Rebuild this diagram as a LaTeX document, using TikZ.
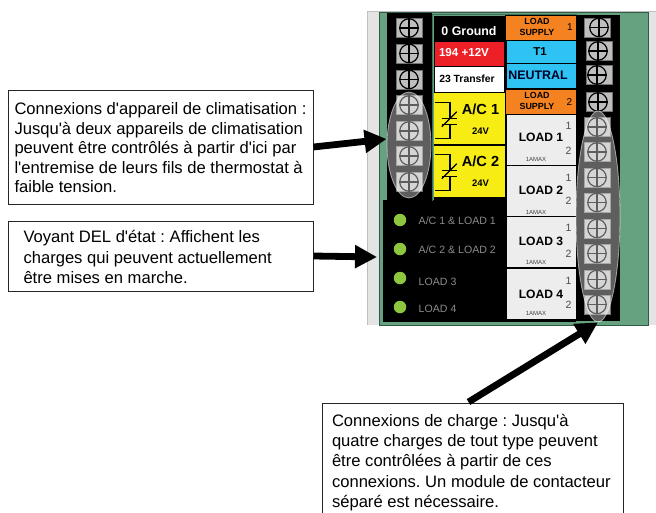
\documentclass[tikz,border=0pt]{standalone}
\usepackage{fontspec}
\setmainfont{Liberation Sans}
\frenchspacing
\usetikzlibrary{arrows.meta,calc,shapes.geometric}
\definecolor{gboard}{HTML}{66A27F}
\definecolor{gedge}{HTML}{2F5A46}
\definecolor{gside}{HTML}{E4E4E4}
\definecolor{gtile}{HTML}{BEBEBE}
\definecolor{cred}{HTML}{EE2027}
\definecolor{corange}{HTML}{F58220}
\definecolor{cblue}{HTML}{2EC3F3}
\definecolor{cyellow}{HTML}{F7EC13}
\definecolor{cload}{HTML}{EDEDED}
\definecolor{cled}{HTML}{8DC63F}
\definecolor{cledtxt}{HTML}{8C8C8C}
\newcommand{\fs}[2]{\fontsize{#1}{#2}\selectfont}
\newcommand{\ap}{\textquotesingle}
\tikzset{
  panel/.style={draw=none,inner sep=0pt,outer sep=0pt,anchor=north west},
  lbl/.style={inner sep=0pt,outer sep=0pt,align=center},
  callout/.style={draw=black!85,line width=0.9pt,fill=white,inner sep=0pt,outer sep=0pt,anchor=north west},
  callouttext/.style={inner sep=0pt,outer sep=0pt,anchor=north west,align=left,font=\fs{16.6}{19.6}},
  tile/.style={fill=gtile,draw=black!55,line width=0.5pt,minimum width=26pt,minimum height=19pt,inner sep=0pt},
  screw/.style={circle,draw=black,line width=1.2pt,minimum size=18.5pt,inner sep=0pt},
  led/.style={circle,fill=cled,minimum size=12.5pt,inner sep=0pt},
  ledtxt/.style={inner sep=0pt,anchor=west,text=cledtxt,font=\fs{10.6}{12}},
  highlight/.style={ellipse,fill=white,fill opacity=0.37,draw=white,draw opacity=0.55,line width=0.8pt,inner sep=0pt},
  bigarrow/.style={draw=black,line width=6.8pt,-{Triangle[length=22pt,width=22pt]}},
  relay/.style={draw=black,line width=1.2pt},
  loadname/.style={lbl,font=\bfseries\fs{12.1}{14}},
  loadnum/.style={lbl,text=black!70,font=\fs{10.5}{12}},
  amax/.style={lbl,text=black!75,font=\fs{6}{7}},
}
\begin{document}
\begin{tikzpicture}[x=1pt,y=-1pt]
\useasboundingbox (0,0) rectangle (656,512);
\clip (0,0) rectangle (656,512);
% board
\fill[gside] (367,11) rectangle (656,325);
\draw[black!25,line width=0.6pt] (367.3,325) -- (367.3,11) -- (656,11);
\draw[fill=gboard,draw=gedge,line width=1pt] (379.5,12) rectangle (648,325);
% black zones
\fill[black] (383,200) rectangle (576,322);
\fill[black] (387,13) rectangle (432,200);
\fill[black] (434,16) rectangle (620,200);
\fill[black] (505,15) rectangle (620,321);
\draw[gedge!70!gboard,line width=0.8pt] (432.8,200.5) -- (432.8,14.5) -- (577,14.5);
% left panels
\node[panel,fill=cred,minimum width=69pt,minimum height=24pt] (pRed) at (435,42) {};
\node[panel,fill=white,minimum width=69pt,minimum height=25pt] (pWhite) at (435,67) {};
\node[panel,fill=cyellow,minimum width=71pt,minimum height=51pt] (pAc1) at (434,93) {};
\node[panel,fill=cyellow,minimum width=71pt,minimum height=51pt] (pAc2) at (434,146) {};
\node[lbl,text=white,font=\bfseries\fs{12.4}{14}] (tGround) at (469,31) {0 Ground};
\node[lbl,text=white,font=\bfseries\fs{11.6}{14}] (tRed) at (464,53) {194 +12V};
\node[lbl,font=\bfseries\fs{10.4}{12}] (tTransfer) at (467,79) {23 Transfer};
\node[lbl,font=\bfseries\fs{14.6}{18}] (tAc1) at (480.5,109) {A/C 1};
\node[lbl,font=\bfseries\fs{9.5}{12}] (tV1) at (480.5,131) {24V};
\node[lbl,font=\bfseries\fs{14.6}{18}] (tAc2) at (480.5,161) {A/C 2};
\node[lbl,font=\bfseries\fs{9.5}{12}] (tV2) at (480.5,183.5) {24V};
\foreach \o in {0,52}{
  \draw[relay] (434.5,102.7+\o) -- (450,102.7+\o) -- (450,118.3+\o);
  \draw[relay] (441.7,118.3+\o) -- (456.7,118.3+\o);
  \draw[relay] (441.7,124.3+\o) -- (456.7,124.3+\o);
  \draw[relay] (441.7,126.7+\o) -- (456.7,111.7+\o);
  \draw[relay] (450,124.3+\o) -- (450,138.3+\o) -- (434.5,138.3+\o);
}
% right panels
\node[panel,fill=corange,minimum width=70pt,minimum height=24pt] (pSup1) at (506,16) {};
\node[panel,fill=cblue,minimum width=69pt,minimum height=22pt] (pT1) at (507,41) {};
\node[panel,fill=cblue,minimum width=69pt,minimum height=24pt] (pNeu) at (507,64) {};
\node[panel,fill=corange,minimum width=70pt,minimum height=24pt] (pSup2) at (506,90) {};
\node[lbl,font=\bfseries\fs{8.9}{10.2}] (tSup1) at (537,27) {LOAD\\SUPPLY};
\node[lbl,font=\fs{10}{11}] (nSup1) at (570,27) {1};
\node[lbl,font=\bfseries\fs{11.5}{14}] (tT1) at (540,52) {T1};
\node[lbl,text=black!85!blue,font=\bfseries\fs{12.4}{14}] (tNeu) at (538,75) {NEUTRAL};
\node[lbl,font=\bfseries\fs{8.9}{10.2}] (tSup2) at (537,101) {LOAD\\SUPPLY};
\node[lbl,font=\fs{10}{11}] (nSup2) at (569.5,102) {2};
\node[panel,fill=cload,minimum width=69pt,minimum height=50pt] (pL1) at (507,115) {};
\node[panel,fill=cload,minimum width=69pt,minimum height=50pt] (pL2) at (507,166) {};
\node[panel,fill=cload,minimum width=69pt,minimum height=50pt] (pL3) at (507,217) {};
\node[panel,fill=cload,minimum width=69pt,minimum height=50pt] (pL4) at (507,269) {};
\node[loadname] (tL1) at (541,137) {LOAD 1};
\node[loadnum] at (568.5,126) {1};
\node[loadnum] at (568.5,151) {2};
\node[amax] at (536,159) {1AMAX};
\node[loadname] (tL2) at (541,190) {LOAD 2};
\node[loadnum] at (568.5,178) {1};
\node[loadnum] at (568.5,201) {2};
\node[amax] at (536,212) {1AMAX};
\node[loadname] (tL3) at (541,241) {LOAD 3};
\node[loadnum] at (568.5,228) {1};
\node[loadnum] at (568.5,254) {2};
\node[amax] at (536,262) {1AMAX};
\node[loadname] (tL4) at (541,294) {LOAD 4};
\node[loadnum] at (568.5,281) {1};
\node[loadnum] at (568.5,305) {2};
\node[amax] at (536,313) {1AMAX};
% terminals
\foreach \yy [count=\i] in {28,53.5,79.5,105,131,156,182}{
  \node[tile] (tl\i) at (409.5,\yy) {};
  \node[screw] (sl\i) at (409,\yy) {};
  \draw[black,line width=1.2pt] (sl\i.north) -- (sl\i.south) (sl\i.west) -- (sl\i.east);
}
\foreach \yy/\xx/\cx [count=\i] in {27.5/597/599,51/599/598,75/599/597,102/599/598,127/597/597,152/597/597,177.5/597/597,202.5/597/597,228.5/597/597,253.5/597/597,279.5/597/597,304.5/597/597}{
  \node[tile] (tr\i) at (\xx,\yy) {};
  \node[screw] (sr\i) at (\cx,\yy) {};
  \draw[black,line width=1.2pt] (sr\i.north) -- (sr\i.south) (sr\i.west) -- (sr\i.east);
}
% highlights
\node[highlight,minimum width=44pt,minimum height=106pt] (ellA) at (409,145) {};
\node[highlight,minimum width=44pt,minimum height=211pt] (ellB) at (598,216.5) {};
% LEDs
\foreach \yy/\tx/\ty [count=\i] in {220/{A/C 1 \& LOAD 1}/221,249/{A/C 2 \& LOAD 2}/250,278/{LOAD 3}/282,307/{LOAD 4}/309}{
  \node[led] (led\i) at (400,\yy) {};
  \node[ledtxt] (ledt\i) at (418.5,\ty) {\tx};
}
% callouts
\node[callout,minimum width=305pt,minimum height=114pt] (boxA) at (8.5,90) {};
\node[callouttext] (txtA) at (14.5,102.5) {Connexions d\ap appareil de climatisation :\\Jusqu\ap à deux appareils de climatisation\\peuvent être contrôlés à partir d\ap ici par\\l\ap entremise de leurs fils de thermostat à\\faible tension.};
\node[callout,minimum width=305pt,minimum height=70pt] (boxB) at (8.5,221) {};
\node[callouttext,font=\fs{16.6}{20.3}] (txtB) at (23.5,230.5) {Voyant DEL d\ap état : Affichent les\\charges qui peuvent actuellement\\être mises en marche.};
\node[callout,minimum width=301pt,minimum height=120pt] (boxC) at (322,403) {};
\node[callouttext,font=\fs{16.6}{20.3}] (txtC) at (332,414) {Connexions de charge : Jusqu\ap à\\quatre charges de tout type peuvent\\être contrôlées à partir de ces\\connexions. Un module de contacteur\\séparé est nécessaire.};
% arrows
\coordinate (tipB) at (377,257);
\coordinate (startC) at ($(boxC.north)+(-4,-1)$);
\draw[bigarrow] (boxA.east) -- (ellA.west |- 0,139);
\draw[bigarrow] (boxB.east) -- (tipB);
\draw[bigarrow] (startC) -- (ellB.south);
\end{tikzpicture}
\end{document}
